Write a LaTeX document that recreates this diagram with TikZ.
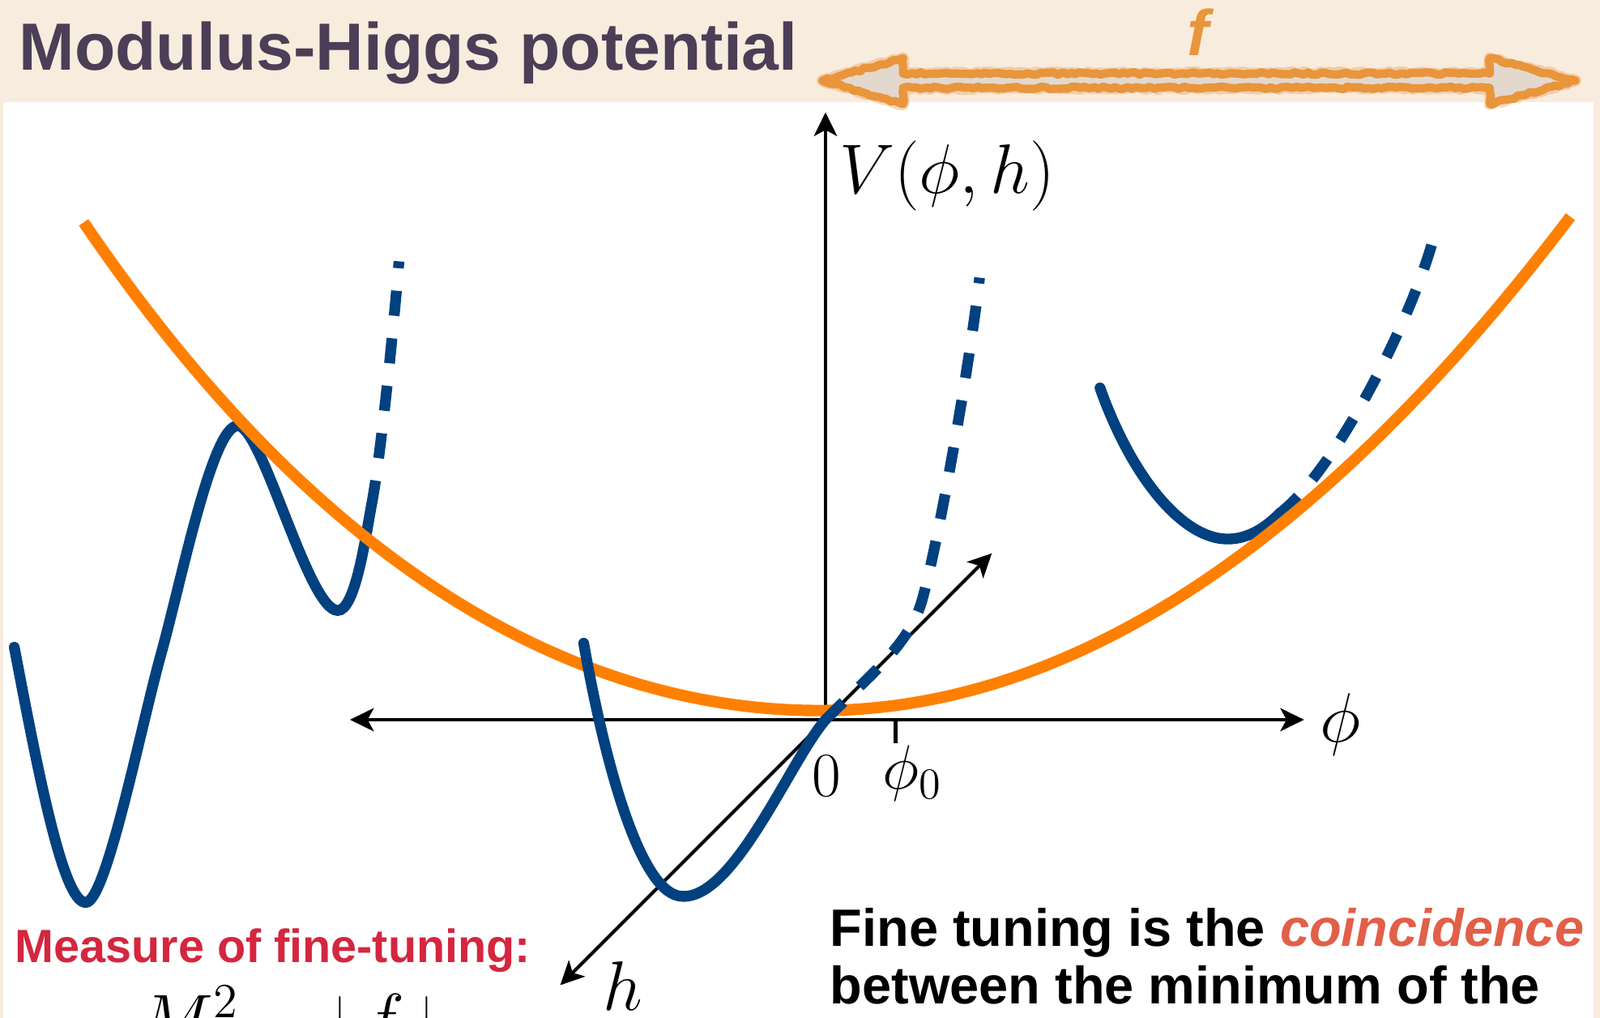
\RequirePackage{fix-cm}
\documentclass[tikz,border=0pt]{standalone}
\usepackage{fontspec}
\newfontfamily\hsans{Liberation Sans}
\usetikzlibrary{arrows.meta,decorations.pathmorphing}
\definecolor{bg}{HTML}{F8ECDE}
\definecolor{titlec}{HTML}{4B3E56}
\definecolor{arrowor}{HTML}{E9953B}
\definecolor{arrowin}{HTML}{E2D8CE}
\definecolor{navy}{HTML}{01417F}
\definecolor{orng}{HTML}{FF8000}
\definecolor{crimson}{HTML}{D4263F}
\definecolor{coin}{HTML}{E25F48}
\tikzset{
  stl/.tip={Stealth[length=6.6pt,width=6.4pt,inset=1.7pt]},
  axisline/.style={line width=1.1pt, black},
  diagline/.style={line width=0.95pt, black},
  curveb/.style={line width=3.0pt, navy, line cap=round},
  curved/.style={line width=3.0pt, navy, dash pattern=on 7pt off 6.3pt},
  orcurve/.style={line width=3.2pt, orng},
  mathbig/.style={inner sep=0, font=\fontsize{19.5}{22}\selectfont},
  mathsmall/.style={inner sep=0, font=\fontsize{17.5}{20}\selectfont},
  fuzzy/.style={decorate, decoration={random steps, segment length=1.2pt, amplitude=0.35pt}},
}
\begin{document}
\begin{tikzpicture}[x=0.01cm,y=-0.01cm]
\useasboundingbox (0,0) rectangle (1568,997);
\fill[bg] (0,0) rectangle (1568,997);
\fill[white] (3,100) rectangle (1562,1000);

% f double arrow
\coordinate (a1) at (806,79);
\draw[draw=arrowor, opacity=0.35, line width=3.3pt, line join=round, fuzzy]
  (a1) -- (885,57) -- (885,72) -- (1460,72) -- (1460,57) -- (1544,79)
  -- (1460,102) -- (1460,86) -- (885,86) -- (885,102) -- cycle;
\filldraw[fill=arrowin, draw=arrowor, line width=2.3pt, line join=round, fuzzy]
  (a1) -- (885,57) -- (885,72) -- (1460,72) -- (1460,57) -- (1544,79)
  -- (1460,102) -- (1460,86) -- (885,86) -- (885,102) -- cycle;
\node[anchor=base, inner sep=0, text=arrowor, font=\hsans\bfseries\itshape\fontsize{18}{20}\selectfont] (flab) at (1174,54) {f};

% title
\node[anchor=base west, inner sep=0, text=titlec, font=\hsans\bfseries\fontsize{18.6}{20}\selectfont] (title) at (18,69) {Modulus-Higgs potential};

% left and right blue curves (under the orange one)
\draw[curveb] (14,634) .. controls (38,760) and (62,884) .. (84,884)
  .. controls (104,884) and (138,712) .. (158,640)
  .. controls (178,568) and (208,417) .. (233,417)
  .. controls (257,417) and (302,598) .. (331,598)
  .. controls (348,598) and (358,528) .. (364,495);
\draw[curved] (364,495) .. controls (372,455) and (385,330) .. (391,256);
\draw[curveb] (1078,380) .. controls (1110,470) and (1160,528) .. (1203,528)
  .. controls (1225,528) and (1242,515) .. (1254,503);
\draw[curved] (1254,503) .. controls (1312,458) and (1390,300) .. (1408,221);

% axes
\coordinate (O) at (809,705);
\coordinate (xl) at (343,705);
\coordinate (xr) at (1278,705);
\coordinate (vt) at (809,110);
\coordinate (hl) at (549,965);
\coordinate (hr) at (972,542);
\coordinate (tk) at (878,705);
\coordinate (tkb) at (878,728);
\draw[axisline, stl-stl] (xl) -- (xr);
\draw[axisline, -stl] (O) -- (vt);
\draw[diagline, stl-stl] (hl) -- (hr);
\draw[axisline] (tk) -- (tkb);

% orange curve
\draw[orcurve] plot[domain=82:803, samples=80] (\x, {696-8.2*((\x-803)/100)^2-0.0192*((\x-803)/100)^4})
  -- plot[domain=803:1539, samples=80] (\x, {696-8.93*((\x-803)/100)^2});

% central blue curve (over the orange one)
\draw[curveb] (572,630) .. controls (595,760) and (630,878) .. (669,878)
  .. controls (720,880) and (775,744) .. (809,705);
\draw[curved] (809,705) .. controls (845,668) and (890,634) .. (903,590)
  .. controls (918,540) and (950,360) .. (960,272);

% axis labels
\node[mathbig, anchor=base west] (vlab) at (822,189) {$V(\phi,h)$};
\node[mathbig, anchor=base west] (philab) at (1293,727) {$\phi$};
\node[mathbig, anchor=base west] (hlab) at (590,990) {$h$};
\node[mathsmall, anchor=base] (zero) at (810,780) {$0$};
\node[mathsmall, anchor=base west] (phi0) at (864,773) {$\phi_0$};

% texts
\node[anchor=base west, inner sep=0, text=crimson, font=\hsans\bfseries\fontsize{13}{15}\selectfont] (meas) at (14,943) {Measure of fine-tuning:};
\node[anchor=base west, inner sep=0, font=\hsans\bfseries\fontsize{14.65}{16}\selectfont] (fine1) at (813,927) {Fine tuning is the \textcolor{coin}{\itshape coincidence}};
\node[anchor=base west, inner sep=0, font=\hsans\bfseries\fontsize{14.65}{16}\selectfont] (fine2) at (813,983) {between the minimum of the};

% formula (cut by the lower edge)
\node[mathbig, anchor=base west] (msq) at (136,1022) {$M^2$};
\node[mathbig, anchor=north] (absf) at (376,973) {$\displaystyle\left|\frac{f}{\phantom{\phi_0}}\right|$};
\end{tikzpicture}
\end{document}
